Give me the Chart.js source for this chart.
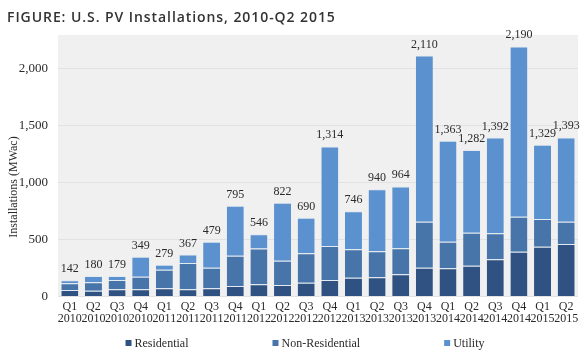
<!DOCTYPE html>
<html><head><meta charset="utf-8">
<script src="https://cdn.jsdelivr.net/npm/chart.js@4/dist/chart.umd.min.js"></script>
<style>html,body{margin:0;padding:0;background:#fff}#wrap{width:588px;height:356px;position:relative}</style>
</head><body><div id="wrap"><canvas id="c" width="588" height="356"></canvas></div>
<script>
const quarters = ['Q1','Q2','Q3','Q4','Q1','Q2','Q3','Q4','Q1','Q2','Q3','Q4','Q1','Q2','Q3','Q4','Q1','Q2','Q3','Q4','Q1','Q2'];
const years = ['2010','2010','2010','2010','2011','2011','2011','2011','2012','2012','2012','2012','2013','2013','2013','2013','2014','2014','2014','2014','2015','2015'];
const residential    = [58, 51, 63, 63, 72, 63, 72, 92, 107, 101, 121, 145, 165, 168, 194, 252, 247, 270, 326, 392, 436, 460];
const nonResidential = [58, 74, 81, 110, 163, 231, 179, 265, 314, 212, 257, 298, 249, 228, 228, 403, 233, 289, 228, 307, 243, 195];
const utility        = [26, 55, 35, 176, 44, 73, 228, 438, 125, 509, 312, 871, 332, 544, 542, 1455, 883, 723, 838, 1491, 650, 738];
const totalLabels    = ['142','180','179','349','279','367','479','795','546','822','690','1,314','746','940','964','2,110','1,363','1,282','1,392','2,190','1,329','1,393'];
const yTicks = [0, 500, 1000, 1500, 2000];

const SERIF = '"Liberation Serif", "Times New Roman", serif';
const TXT = '#2a2a2a';

const bgPlugin = {
  id: 'bg',
  beforeDraw(chart) {
    const {ctx, chartArea: a} = chart;
    ctx.save();
    ctx.fillStyle = '#f0f0f0';
    ctx.fillRect(a.left, a.top, a.right - a.left, a.bottom - a.top);
    ctx.restore();
  }
};

const decoPlugin = {
  id: 'deco',
  afterDraw(chart) {
    const ctx = chart.ctx;
    ctx.save();
    // title
    ctx.font = '600 14px "Open Sans", sans-serif';
    ctx.fillStyle = '#333';
    ctx.textBaseline = 'alphabetic';
    ctx.textAlign = 'left';
    const t = 'FIGURE: U.S. PV Installations, 2010-Q2 2015';
    const w = ctx.measureText(t).width;
    ctx.letterSpacing = ((328 - w) / (t.length - 1)).toFixed(2) + 'px';
    ctx.fillText(t, 7, 22);
    ctx.letterSpacing = '0px';
    // y title
    ctx.save();
    ctx.translate(14, 187);
    ctx.rotate(-Math.PI / 2);
    ctx.font = '12px ' + SERIF;
    ctx.fillStyle = TXT;
    ctx.textAlign = 'center';
    ctx.textBaseline = 'middle';
    ctx.fillText('Installations (MWac)', 0, 0);
    ctx.restore();
    // totals
    const meta = chart.getDatasetMeta(2);
    ctx.font = '12px ' + SERIF;
    ctx.fillStyle = TXT;
    ctx.textAlign = 'center';
    ctx.textBaseline = 'alphabetic';
    meta.data.forEach((bar, i) => {
      ctx.fillText(totalLabels[i], bar.x, bar.y - 8);
    });
    // legend
    const ds = chart.data.datasets;
    ctx.font = '12px ' + SERIF;
    const box = 6, gapBT = 3, gap = 84;
    const widths = ds.map(d => box + gapBT + ctx.measureText(d.label).width);
    const total = widths.reduce((s, v) => s + v, 0) + gap * (ds.length - 1);
    let x = 305 - total / 2;
    const y = 343;
    ctx.textAlign = 'left';
    ctx.textBaseline = 'middle';
    ds.forEach((d, i) => {
      ctx.fillStyle = d.backgroundColor;
      ctx.fillRect(x, y - box / 2, box, box);
      ctx.fillStyle = TXT;
      ctx.fillText(d.label, x + box + gapBT, y + 0.5);
      x += widths[i] + gap;
    });
    ctx.restore();
  }
};

const border = {top: 1, left: 0, right: 0, bottom: 0};
new Chart(document.getElementById('c'), {
  type: 'bar',
  data: {
    labels: quarters.map((q, i) => [q, years[i]]),
    datasets: [
      {label: 'Residential', data: residential, backgroundColor: '#2f5283', borderColor: 'rgba(215,228,243,0.55)', borderWidth: border, borderSkipped: false},
      {label: 'Non-Residential', data: nonResidential, backgroundColor: '#4775aa', borderColor: 'rgba(215,228,243,0.55)', borderWidth: border, borderSkipped: false},
      {label: 'Utility', data: utility, backgroundColor: '#5b91ce', borderColor: 'rgba(215,228,243,0.55)', borderWidth: border, borderSkipped: false}
    ]
  },
  options: {
    responsive: false,
    animation: false,
    devicePixelRatio: 1,
    layout: {padding: {left: 0, right: 10, top: 35, bottom: 31}},
    plugins: {legend: {display: false}, tooltip: {enabled: false}, title: {display: false}},
    scales: {
      x: {
        stacked: true,
        categoryPercentage: 1,
        barPercentage: 0.57,
        grid: {display: false, drawTicks: false},
        border: {display: false},
        ticks: {autoSkip: false, maxRotation: 0, minRotation: 0, padding: 4, color: TXT,
                font: {family: SERIF, size: 12, lineHeight: 1.0}},
        afterFit(s) { s.height = 28.5; }
      },
      y: {
        stacked: true,
        min: 0,
        max: 2290,
        grid: {color: '#e2e2e2', drawTicks: false},
        border: {display: false},
        afterBuildTicks(s) { s.ticks = yTicks.map(v => ({value: v})); },
        ticks: {padding: 10, color: TXT, font: {family: SERIF, size: 13},
                callback: v => v.toLocaleString('en-US')},
        afterFit(s) { s.width = 58; }
      }
    }
  },
  plugins: [bgPlugin, decoPlugin]
});
</script>
</body></html>
